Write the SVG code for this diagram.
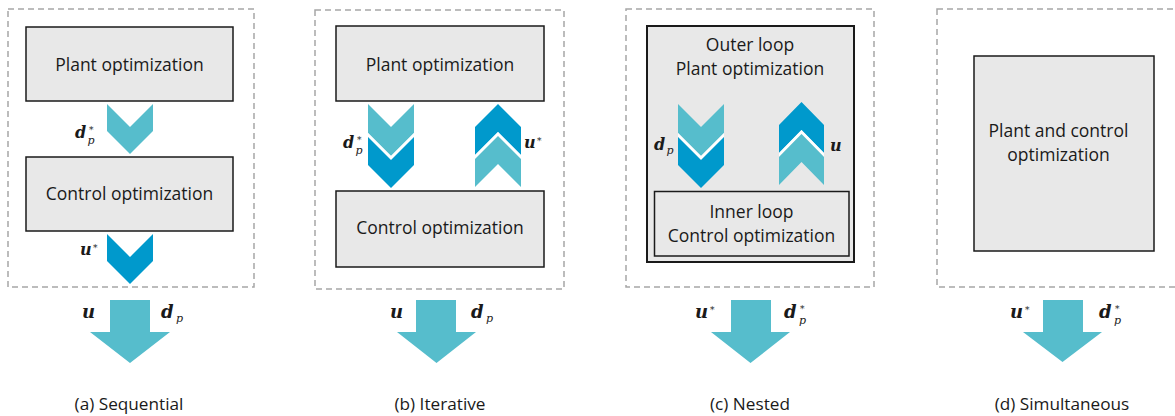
<svg xmlns="http://www.w3.org/2000/svg" width="1175" height="416" viewBox="0 0 1175 416">
<style>
.frame{fill:none;stroke:#A6A6A6;stroke-width:1.5;stroke-dasharray:6 4}
.box{fill:#E8E8E8;stroke:#1A1A1A;stroke-width:1.5}
.outer{fill:#E8E8E8;stroke:#1A1A1A;stroke-width:2}
.t{font-family:"Open Sans","Noto Sans",sans-serif;font-size:17.5px;fill:#1A1A1A;text-anchor:middle}
.cap{font-family:"Open Sans","Noto Sans",sans-serif;font-size:17.2px;fill:#1A1A1A;text-anchor:middle}
.lt{fill:#56BDCC}
.dk{fill:#0099CC}
.gap{fill:#FFFFFF}
.m{font-family:"DejaVu Serif",serif;font-weight:bold;font-style:italic;font-size:16px;fill:#1A1A1A}
.mb{font-family:"DejaVu Serif",serif;font-weight:bold;font-style:italic;font-size:18px;fill:#1A1A1A}
.sub{font-family:"DejaVu Serif",serif;font-style:italic;font-size:11px;fill:#1A1A1A}
.sup{font-family:"DejaVu Serif",serif;font-size:9px;fill:#1A1A1A}
</style>

<g id="frames">
<rect class="frame" x="8" y="9" width="246" height="278"/>
<rect class="frame" x="315" y="10" width="249" height="279"/>
<rect class="frame" x="626" y="9" width="248" height="278"/>
<rect class="frame" x="937" y="9" width="250" height="278"/>
</g>

<g id="a-plant"><rect class="box" x="26" y="27" width="207" height="74"/><text class="t" x="129.5" y="71">Plant optimization</text></g>
<g id="a-control"><rect class="box" x="26" y="157" width="207" height="74"/><text class="t" x="129.5" y="200">Control optimization</text></g>

<g id="b-plant"><rect class="box" x="336" y="26" width="208" height="75"/><text class="t" x="440" y="71">Plant optimization</text></g>
<g id="b-control"><rect class="box" x="336" y="191" width="208" height="76"/><text class="t" x="440" y="234">Control optimization</text></g>

<g id="c-outer"><rect class="outer" x="647" y="26" width="207" height="236"/><text class="t" x="750" y="51">Outer loop</text><text class="t" x="750" y="75">Plant optimization</text></g>
<g id="c-inner"><rect class="box" x="654.5" y="191.5" width="194.5" height="64.5"/><text class="t" x="751.5" y="218">Inner loop</text><text class="t" x="751.5" y="242">Control optimization</text></g>

<g id="d-both"><rect class="box" x="974" y="56" width="180" height="195"/><text class="t" x="1058.5" y="137">Plant and control</text><text class="t" x="1058.5" y="161">optimization</text></g>

<g id="connectors">
<!-- (a) -->
<polygon class="lt" points="107,104 130,127 153,104 153,131 130,154 107,131"/>
<polygon class="dk" points="107,234 130,257 153,234 153,261 130,284 107,261"/>
<polygon class="lt" points="110,300 150,300 150,332 170,332 130,363 90,332 110,332"/>
<!-- (b) -->
<polygon class="lt" points="368,104 391,127 414,104 414,133 391,156 368,133"/>
<polygon class="gap" points="368,133 391,156 414,133 414,137 391,160 368,137"/>
<polygon class="dk" points="368,137 391,160 414,137 414,165 391,188 368,165"/>
<polygon class="dk" points="498,104 521,127 521,155 498,132 475,155 475,127"/>
<polygon class="gap" points="475,155 498,132 521,155 521,159 498,136 475,159"/>
<polygon class="lt" points="498,136 521,159 521,187 498,164 475,187 475,159"/>
<polygon class="lt" points="416,300 456,300 456,332 476,332 436.5,363 397,332 416,332"/>
<!-- (c) -->
<polygon class="lt" points="678,104 701,127 724,104 724,133 701,156 678,133"/>
<polygon class="gap" points="678,133 701,156 724,133 724,137 701,160 678,137"/>
<polygon class="dk" points="678,137 701,160 724,137 724,165 701,188 678,165"/>
<polygon class="dk" points="801.5,102 824,125 824,153 801.5,130 779,153 779,125"/>
<polygon class="gap" points="779,153 801.5,130 824,153 824,157 801.5,134 779,157"/>
<polygon class="lt" points="801.5,134 824,157 824,185 801.5,162 779,185 779,157"/>
<polygon class="lt" points="731,300 771,300 771,332 790,332 750.5,363 711,332 731,332"/>
<!-- (d) -->
<polygon class="lt" points="1043,300 1083,300 1083,332 1102,332 1062.5,362 1023,332 1043,332"/>
</g>

<g id="labels">
<!-- (a) -->
<text class="m" x="75" y="138">d</text><text class="sub" x="87.5" y="144">p</text><text class="sup" x="89" y="133">*</text>
<text class="m" x="80" y="255">u</text><text class="sup" x="93" y="251">*</text>
<text class="mb" x="82" y="318">u</text>
<text class="mb" x="161" y="318">d</text><text class="sub" x="176" y="322">p</text>
<!-- (b) -->
<text class="m" x="343" y="148">d</text><text class="sub" x="355.5" y="154">p</text><text class="sup" x="357" y="143">*</text>
<text class="m" x="524" y="148">u</text><text class="sup" x="537" y="144">*</text>
<text class="mb" x="390" y="318">u</text>
<text class="mb" x="471" y="318">d</text><text class="sub" x="486" y="322">p</text>
<!-- (c) -->
<text class="m" x="654" y="150">d</text><text class="sub" x="666.5" y="154">p</text>
<text class="m" x="830" y="151">u</text>
<text class="mb" x="695" y="318">u</text><text class="sup" x="710" y="313">*</text>
<text class="mb" x="784" y="318">d</text><text class="sub" x="799" y="324">p</text><text class="sup" x="800" y="312">*</text>
<!-- (d) -->
<text class="mb" x="1010" y="318">u</text><text class="sup" x="1025" y="313">*</text>
<text class="mb" x="1099" y="318">d</text><text class="sub" x="1114" y="324">p</text><text class="sup" x="1115" y="312">*</text>
</g>

<g id="captions">
<text class="cap" x="129" y="410">(a) Sequential</text>
<text class="cap" x="440" y="410">(b) Iterative</text>
<text class="cap" x="750" y="410">(c) Nested</text>
<text class="cap" x="1062" y="410">(d) Simultaneous</text>
</g>
</svg>
